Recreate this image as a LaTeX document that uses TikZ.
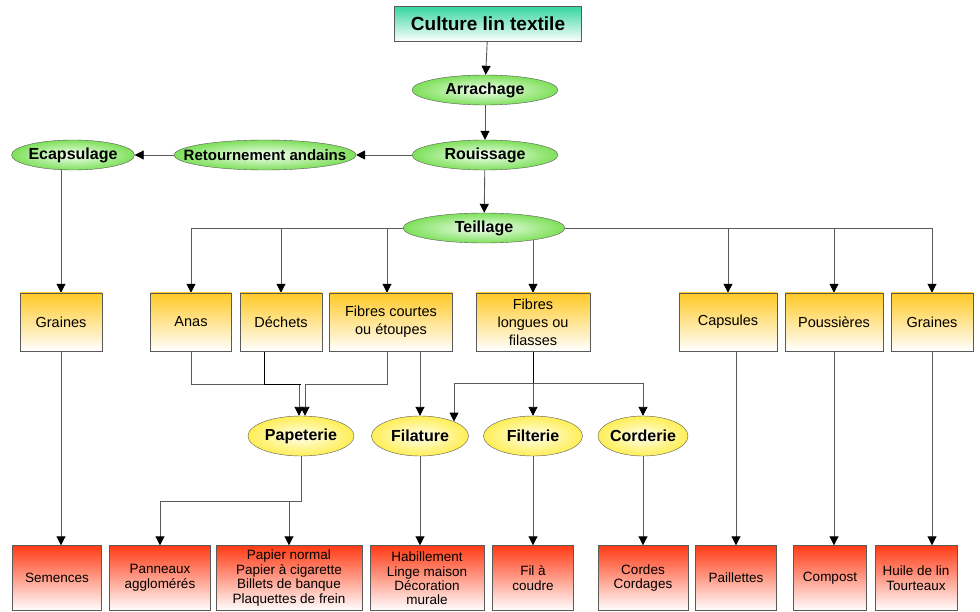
\documentclass[tikz,border=0pt]{standalone}
\usepackage{fontspec}
\setmainfont{Liberation Sans}
\usetikzlibrary{arrows.meta, shapes.geometric, backgrounds}

\definecolor{cultureteal}{HTML}{36D6A0}
\definecolor{opgreen}{HTML}{7EE05A}
\definecolor{opyellow}{HTML}{FFEE55}
\definecolor{prodyellow}{HTML}{FFC926}
\definecolor{endred}{HTML}{FF3A14}
\definecolor{linegray}{HTML}{5A5A5A}

\begin{document}
\begin{tikzpicture}[
    x=1pt, y=-1pt,
    culturebox/.style={rectangle, draw=linegray, top color=cultureteal, bottom color=white, minimum width=187pt, minimum height=35pt, inner sep=0pt, font=\bfseries\fontsize{19}{21}\selectfont},
    greenop/.style={ellipse, draw=linegray, inner color=green!4!white, outer color=opgreen, minimum height=30pt, inner sep=0pt, font=\bfseries\fontsize{16}{18}\selectfont},
    yellowop/.style={ellipse, draw=linegray, inner color=yellow!6!white, outer color=opyellow, minimum height=40pt, inner sep=0pt, font=\bfseries\fontsize{16}{18}\selectfont},
    product/.style={rectangle, draw=linegray, top color=prodyellow, bottom color=white, minimum height=58pt, inner sep=0pt, align=center, font=\fontsize{14.5}{18}\selectfont},
    enduse/.style={rectangle, draw=linegray, top color=endred, bottom color=white, minimum height=65pt, inner sep=0pt, align=center, font=\fontsize{13.5}{14.5}\selectfont},
    arrow/.style={-{Triangle[length=9pt, width=9pt, color=black]}, draw=linegray, line width=0.9pt}
  ]
    \useasboundingbox (0,0) rectangle (980,612);

    % filiere
    \node[culturebox] (culture) at (488,24) {Culture lin textile};
    \node[greenop, minimum width=146pt] (arrachage) at (485,90) {Arrachage};
    \node[greenop, minimum width=146pt] (rouissage) at (485,155) {Rouissage};
    \node[greenop, minimum width=180pt, inner xsep=-17pt, font=\bfseries\fontsize{15}{17}\selectfont] (retournement) at (265,155) {Retournement andains};
    \node[greenop, minimum width=123pt, inner xsep=-3pt] (ecapsulage) at (73,155) {Ecapsulage};
    \node[greenop, minimum width=162pt] (teillage) at (484,228) {Teillage};

    % produits du teillage
    \node[product, minimum width=82pt] (grainesL) at (61,322) {Graines};
    \node[product, minimum width=81pt] (anas) at (191,322) {Anas};
    \node[product, minimum width=82pt] (dechets) at (281,322) {Déchets};
    \node[product, minimum width=123pt] (fcourtes) at (391,322) {Fibres courtes\\ou étoupes};
    \node[product, minimum width=114pt] (flongues) at (533,322) {Fibres\\longues ou\\filasses};
    \node[product, minimum width=98pt] (capsules) at (728,322) {Capsules};
    \node[product, minimum width=98pt] (poussieres) at (834,322) {Poussières};
    \node[product, minimum width=82pt] (grainesR) at (932,322) {Graines};

    % transformations
    \node[yellowop, minimum width=106pt] (papeterie) at (301,436) {Papeterie};
    \node[yellowop, minimum width=97pt] (filature) at (420,436) {Filature};
    \node[yellowop, minimum width=99pt] (filterie) at (533,436) {Filterie};
    \node[yellowop, minimum width=90pt, inner xsep=-3pt] (corderie) at (643,436) {Corderie};

    % debouches
    \node[enduse, minimum width=89pt] (semences) at (57,578) {Semences};
    \node[enduse, minimum width=101pt] (panneaux) at (160,578) {Panneaux\\agglomérés};
    \node[enduse, minimum width=146pt] (papier) at (289,578) {Papier normal\\Papier à cigarette\\Billets de banque\\Plaquettes de frein};
    \node[enduse, minimum width=114pt] (habillement) at (427,578) {Habillement\\Linge maison\\Décoration\\[-1pt]murale};
    \node[enduse, minimum width=81pt] (fil) at (533,578) {Fil à\\coudre};
    \node[enduse, minimum width=90pt] (cordes) at (643,578) {Cordes\\Cordages};
    \node[enduse, minimum width=81pt] (paillettes) at (736,578) {Paillettes};
    \node[enduse, minimum width=73pt] (compost) at (830,578) {Compost};
    \node[enduse, minimum width=82pt] (huile) at (916,578) {Huile de lin\\Tourteaux};

    \coordinate (papin) at (301,384);
    \coordinate (flsplit) at (533,383);
    \coordinate (papout) at (289,501);

    \begin{scope}[on background layer]
    \draw[arrow] (culture) -- (arrachage);
    \draw[arrow] (arrachage) -- (rouissage);
    \draw[arrow] (rouissage) -- (retournement);
    \draw[arrow] (retournement) -- (ecapsulage);
    \draw[arrow] (rouissage) -- (teillage);
    \draw[arrow] (ecapsulage.center -| grainesL) -- (grainesL);

    \draw[arrow] (teillage.west) -| (anas);
    \draw[arrow] (teillage.west) -| (dechets);
    \draw[arrow] (teillage.west) -| ([xshift=-4pt]fcourtes.north);
    \draw[arrow] (teillage.center -| flongues) -- (flongues);
    \draw[arrow] (teillage.east) -| (capsules);
    \draw[arrow] (teillage.east) -| (poussieres);
    \draw[arrow] (teillage.east) -| (grainesR);

    \draw[arrow] (anas) |- ([xshift=-2pt]papin) -- ([xshift=-2pt]papeterie.north);
    \draw ([xshift=-17pt]dechets.south) |- (papin);
    \draw[arrow] ([xshift=-4pt]fcourtes.south) |- ([xshift=4pt]papin) -- ([xshift=4pt]papeterie.north);
    \draw[arrow] (fcourtes.south -| filature) -- (filature);
    \draw (flongues) -- (flsplit);
    \draw[arrow] (flsplit) -| (filature.23);
    \draw[arrow] (flsplit) -- (filterie);
    \draw[arrow] (flsplit) -| (corderie);

    \draw[arrow] (grainesL) -- (grainesL.south |- semences.north);
    \draw[arrow] (papeterie) |- (panneaux.north |- papout) -- (panneaux);
    \draw[arrow] (papout) -- (papier);
    \draw[arrow] (filature) -- (filature.south |- habillement.north);
    \draw[arrow] (filterie) -- (fil);
    \draw[arrow] (corderie) -- (cordes);
    \draw[arrow] (capsules.south -| paillettes) -- (paillettes);
    \draw[arrow] (poussieres) -- (poussieres.south |- compost.north);
    \draw[arrow] (grainesR) -- (grainesR.south |- huile.north);
    \end{scope}
  \end{tikzpicture}
\end{document}
